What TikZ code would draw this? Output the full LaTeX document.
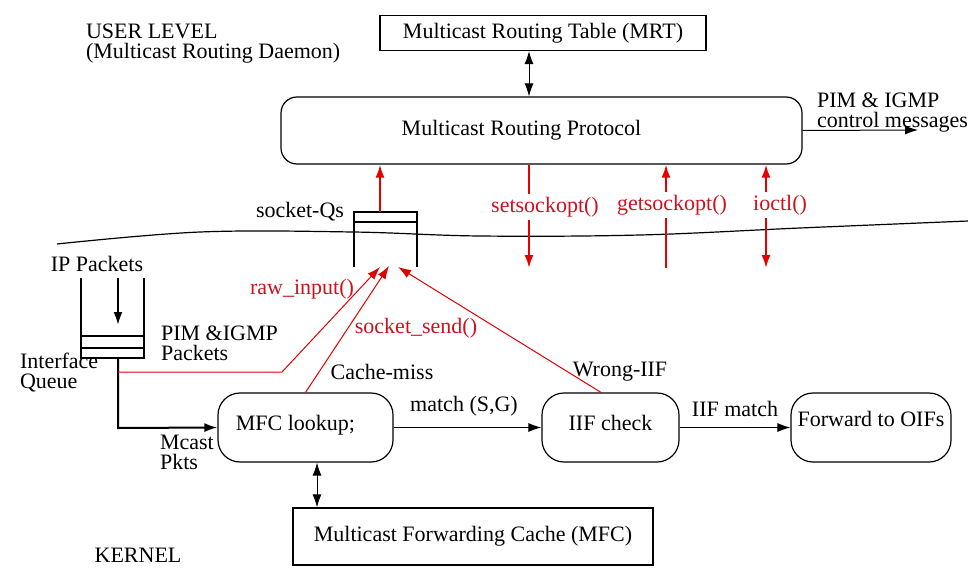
\documentclass[tikz,border=0pt]{standalone}
\usepackage{fontspec}
\setmainfont{Liberation Serif}
\usetikzlibrary{arrows.meta}
\definecolor{callred}{RGB}{228,0,0}
\definecolor{calltxt}{RGB}{208,16,30}
\newcommand{\padr}[1]{\rule{#1}{0pt}}
\begin{document}
\begin{tikzpicture}[x=0.5pt,y=-0.5pt,
    font=\fontsize{11}{10}\selectfont,
    tip/.style={-{Latex[length=6.5pt,width=4.5pt]}},
    dtip/.style={{Latex[length=6.5pt,width=4.5pt]}-{Latex[length=6.5pt,width=4.5pt]}},
    link/.style={line width=0.5pt},
    qline/.style={line width=1pt},
    call/.style={callred,line width=1pt},
    thincall/.style={callred,line width=0.5pt},
    calltext/.style={text=calltxt},
    gap/.style={calltext,fill=white,inner sep=1.5pt},
    sqbox/.style={draw,line width=0.6pt,minimum width=#1},
    rbox/.style={draw,line width=0.6pt,rounded corners=11pt,minimum width=#1,minimum height=34.5pt}]
  \useasboundingbox (0,0) rectangle (968,567);
  \draw
    (543,33) node[sqbox=163pt,minimum height=17.5pt] (mrt) {Multicast Routing Table (MRT)}
    (541.5,130.5) node[draw,line width=0.6pt,rounded corners=8pt,minimum width=260.5pt,minimum height=33.5pt] (mrp) {Multicast Routing Protocol\padr{20pt}}
    (305.5,427.5) node[rbox=87.5pt,text depth=5pt] (mfc) {MFC lookup;\padr{10pt}}
    (610.5,427.5) node[rbox=68.5pt,text depth=5pt] (iif) {IIF check}
    (871,427.5) node[rbox=80pt,text depth=9pt] (fwd) {Forward to OIFs}
    (473,536.5) node[sqbox=180pt,minimum height=28.5pt] (cache) {Multicast Forwarding Cache (MFC)};
  \node[anchor=west,align=left] (user) at (79,44) {USER LEVEL\\(Multicast Routing Daemon)};
  \node (kernel) at (138,555) {KERNEL};
  \node[anchor=west,align=left] (ctrllbl) at (810,113) {PIM \& IGMP\\control messages};
  \coordinate (ctrlend) at (918,130);
  \begin{scope}[link]
    \draw[dtip] (mrt.south -| 529,0) -- (mrp.north -| 529,0);
    \draw[tip] (mrp.east) -- (ctrlend);
    \draw[tip] (mfc.east) -- (iif.west);
    \draw[tip] (iif.east) -- (fwd.west);
    \draw[dtip] (mfc.south -| 317,0) -- (cache.north -| 317,0);
  \end{scope}
  \node (matchsg) at (464,406) {match (S,G)};
  \node (iifmatch) at (735,409) {IIF match};
  % user/kernel boundary
  \draw[line width=0.6pt] plot[smooth,tension=0.6] coordinates
    {(57,244) (200,232) (353,232) (480,236) (640,235) (800,228) (968,221)};
  % socket queues
  \draw[line width=0.6pt] (354,267) -- (354,212) -- (417,212) -- (417,267)
    (354,222) -- (417,222);
  \node (sqlbl) at (300,212) {socket-Qs};
  \coordinate (sqtop) at (380,212);
  \coordinate (sqa) at (380,267);
  \coordinate (sqb) at (389,266);
  \coordinate (sqc) at (398,267);
  % interface queue
  \draw[qline] (81,278) -- (81,358) -- (144,358) -- (144,278)
    (81,336) -- (144,336) (81,348) -- (144,348);
  \coordinate (ipin) at (118,278);
  \coordinate (ipq) at (118,325);
  \coordinate (qout) at (118,358);
  \coordinate (qtap) at (118,372);
  \draw[qline,tip] (ipin) -- (ipq);
  \draw[qline,tip] (qout) -- (118,428) -- (mfc.west);
  \node (iplbl) at (97,264) {IP Packets};
  \node[anchor=west,align=left] (pimlbl) at (154,343) {PIM \&IGMP\\Packets};
  \node[anchor=west,align=left] (ifq) at (13,373) {Interface\\Queue};
  \node[anchor=west,align=left] (mcast) at (153,452) {Mcast\\Pkts};
  % calls between kernel and daemon
  \draw[call,tip] (sqtop) -- (mrp.south -| sqtop);
  \coordinate (setend) at (529,268);
  \coordinate (getstart) at (666,268);
  \coordinate (ioend) at (766,268);
  \draw[call,tip] (mrp.south -| setend) -- (setend);
  \draw[call,tip] (getstart) -- (mrp.south -| getstart);
  \draw[call,dtip] (mrp.south -| ioend) -- (ioend);
  \node[gap] (setlbl) at (545,207) {setsockopt()};
  \node[gap] (getlbl) at (672,205) {getsockopt()};
  \node[gap] (iolbl) at (780,205) {ioctl()};
  \draw[thincall,tip] (qtap) -- (282,372) -- (sqa);
  \draw[thincall,tip] (mfc.north) -- (sqb);
  \draw[thincall,tip] (iif.north -| 601,0) -- (sqc);
  \node[calltext] (rawlbl) at (302,289) {raw\_input()};
  \node[calltext] (sendlbl) at (416,328) {socket\_send()};
  \node (misslbl) at (382,372) {Cache-miss};
  \node (wronglbl) at (620,372) {Wrong-IIF};
\end{tikzpicture}
\end{document}
